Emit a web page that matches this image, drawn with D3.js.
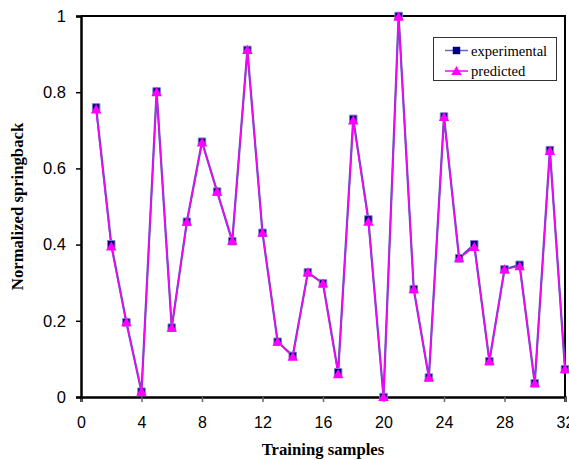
<!DOCTYPE html>
<html>
<head>
<meta charset="utf-8">
<script src="https://cdn.jsdelivr.net/npm/d3@7"></script>
<style>
  html, body { margin: 0; padding: 0; background: #fff; }
  svg { display: block; }
</style>
</head>
<body>
<svg id="chart" width="569" height="460"></svg>
<script>
// Training sample indices and normalized springback values
const samples = d3.range(1, 33);
const experimental = [0.760, 0.401, 0.196, 0.014, 0.802, 0.182, 0.460, 0.670, 0.539, 0.409,
                      0.911, 0.431, 0.145, 0.108, 0.327, 0.298, 0.065, 0.730, 0.466, 0.000,
                      1.000, 0.283, 0.051, 0.736, 0.364, 0.401, 0.094, 0.335, 0.347, 0.036,
                      0.648, 0.073];
const predicted    = [0.755, 0.395, 0.196, 0.014, 0.800, 0.182, 0.460, 0.668, 0.539, 0.410,
                      0.911, 0.431, 0.145, 0.106, 0.327, 0.298, 0.060, 0.726, 0.460, 0.000,
                      0.998, 0.283, 0.051, 0.735, 0.364, 0.394, 0.094, 0.335, 0.343, 0.036,
                      0.646, 0.073];
const xTicks = [0, 4, 8, 12, 16, 20, 24, 28, 32];
const yTicks = [0, 0.2, 0.4, 0.6, 0.8, 1];
const seriesNames = ["experimental", "predicted"];

const svg = d3.select("#chart");
const plotLeft = 81, plotRight = 565, plotTop = 16, plotBottom = 397;

const x = d3.scaleLinear().domain([0, 32]).range([plotLeft, plotRight]);
const y = d3.scaleLinear().domain([0, 1]).range([plotBottom, plotTop]);

// Plot frame (top and right edges)
svg.append("path")
  .attr("d", `M${plotLeft},${plotTop}H${plotRight}V${plotBottom}`)
  .attr("fill", "none").attr("stroke", "#000").attr("stroke-width", 2);

// Axes
const xAxis = svg.append("g").attr("transform", `translate(0,${plotBottom})`)
  .call(d3.axisBottom(x).tickValues(xTicks).tickSize(5).tickPadding(15).tickFormat(d3.format("d")));
xAxis.select(".domain").attr("stroke", "#000").attr("stroke-width", 2.5);
xAxis.selectAll(".tick line").attr("stroke", "#666").attr("stroke-width", 1.5);
xAxis.selectAll("text").attr("font-family", "Liberation Sans, Arial, sans-serif")
  .attr("font-size", 16).attr("fill", "#000");

const yAxis = svg.append("g").attr("transform", `translate(${plotLeft},0)`)
  .call(d3.axisLeft(y).tickValues(yTicks).tickSize(5).tickPadding(10)
    .tickFormat(d => d === 0 || d === 1 ? d3.format("d")(d) : d3.format(".1f")(d)));
yAxis.select(".domain").attr("stroke", "#000").attr("stroke-width", 2.5);
yAxis.selectAll(".tick line").attr("stroke", "#000").attr("stroke-width", 1.5);
yAxis.selectAll("text").attr("font-family", "Liberation Sans, Arial, sans-serif")
  .attr("font-size", 16.5).attr("fill", "#000");

// Axis titles
svg.append("text")
  .attr("x", (plotLeft + plotRight) / 2).attr("y", 455)
  .attr("text-anchor", "middle")
  .attr("font-family", "Liberation Serif, Times New Roman, serif")
  .attr("font-weight", "bold").attr("font-size", 16.7)
  .text("Training samples");

svg.append("text")
  .attr("transform", `translate(23,${(plotTop + plotBottom) / 2}) rotate(-90)`)
  .attr("text-anchor", "middle")
  .attr("font-family", "Liberation Serif, Times New Roman, serif")
  .attr("font-weight", "bold").attr("font-size", 16.7)
  .text("Normalized springback");

// Series
const line = d3.line().x((d, i) => x(samples[i])).y(d => y(d));

svg.append("path").datum(experimental)
  .attr("d", line).attr("fill", "none")
  .attr("stroke", "#5050b0").attr("stroke-width", 2.2);

svg.append("path").datum(predicted)
  .attr("d", line).attr("fill", "none")
  .attr("stroke", "#ff00ff").attr("stroke-width", 1.4);

const square = d3.symbol().type(d3.symbolSquare).size(56);
const triangle = d3.symbol().type(d3.symbolTriangle).size(48);

svg.append("g").selectAll("path").data(experimental).join("path")
  .attr("d", square)
  .attr("transform", (d, i) => `translate(${x(samples[i])},${y(d)})`)
  .attr("fill", "#000080").attr("stroke", "#8080c8").attr("stroke-width", 1);

svg.append("g").selectAll("path").data(predicted).join("path")
  .attr("d", triangle)
  .attr("transform", (d, i) => `translate(${x(samples[i])},${y(d) + 1})`)
  .attr("fill", "#ff00ff");

// Legend
const legend = svg.append("g");
legend.append("rect")
  .attr("x", 433.5).attr("y", 37.5).attr("width", 123).attr("height", 43)
  .attr("fill", "#fff").attr("stroke", "#333").attr("stroke-width", 1);

const entries = [
  { name: seriesNames[0], yy: 50.5 },
  { name: seriesNames[1], yy: 71 }
];
entries.forEach((e, k) => {
  legend.append("line")
    .attr("x1", 445).attr("x2", 468).attr("y1", e.yy).attr("y2", e.yy)
    .attr("stroke", k === 0 ? "#6a6ab8" : "#ff00ff").attr("stroke-width", 1.5);
  legend.append("path")
    .attr("d", k === 0 ? square : triangle)
    .attr("transform", `translate(456.5,${e.yy + (k === 0 ? 0 : 1)})`)
    .attr("fill", k === 0 ? "#000080" : "#ff00ff");
  legend.append("text")
    .attr("x", 471).attr("y", e.yy + 5)
    .attr("font-family", "Liberation Serif, Times New Roman, serif")
    .attr("font-size", 14.6)
    .text(e.name);
});
</script>
</body>
</html>
